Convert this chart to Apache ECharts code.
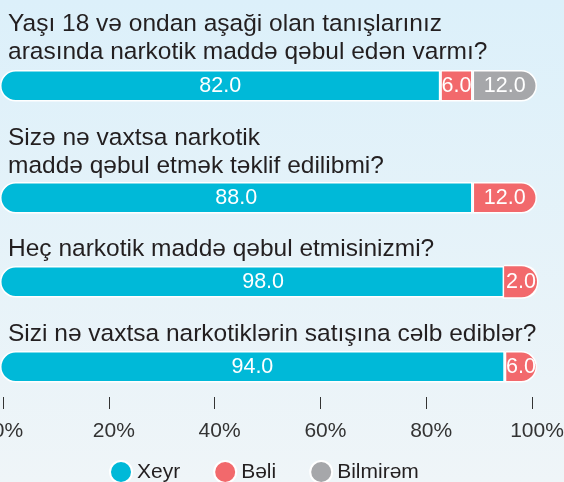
<!DOCTYPE html>
<html>
<head>
<meta charset="utf-8">
<script src="https://cdn.jsdelivr.net/npm/echarts@6/dist/echarts.min.js"></script>
<style>
html,body{margin:0;padding:0;}
#chart{width:564px;height:482px;}
</style>
</head>
<body>
<div id="chart"></div>
<script>
const questions = [
  'Yaşı 18 və ondan aşaği olan tanışlarınız\narasında narkotik maddə qəbul edən varmı?',
  'Sizə nə vaxtsa narkotik\nmaddə qəbul etmək təklif edilibmi?',
  'Heç narkotik maddə qəbul etmisinizmi?',
  'Sizi nə vaxtsa narkotiklərin satışına cəlb ediblər?'
];
const seriesNames = ['Xeyr', 'Bəli', 'Bilmirəm'];
const xeyr = [82.0, 88.0, 98.0, 94.0];
const beli = [6.0, 12.0, 2.0, 6.0];
const bilmirem = [12.0, 0, 0, 0];
const tickValues = [0, 20, 40, 60, 80, 100];

const colors = ['#00b9d8', '#f2696c', '#a6a7aa'];
const rowValues = [xeyr, beli, bilmirem];
const barTops = [70, 182, 266, 351];
const titleTops = [10, 124, 235, 320];
const barH = 31.5;
const R = 15.5;

const grids = [], xAxes = [], yAxes = [], series = [], graphics = [];
questions.forEach((q, i) => {
  grids.push({ left: 0, width: 537, top: barTops[i], height: barH, outerBoundsMode: 'none', containLabel: false });
  xAxes.push({ gridIndex: i, type: 'value', min: 0, max: 100, show: false });
  yAxes.push({ gridIndex: i, type: 'category', data: ['r' + i], show: false });
  const vals = rowValues.map(a => a[i]);
  const nz = vals.map((v, k) => v > 0 ? k : -1).filter(k => k >= 0);
  const first = nz[0], last = nz[nz.length - 1];
  vals.forEach((v, k) => {
    const rad = [k === first ? R : 0, k === last ? R : 0, k === last ? R : 0, k === first ? R : 0];
    const item = { value: v, itemStyle: { borderRadius: rad } };
    if (v > 0 && v < 4 && k === last) {
      // narrow end segment: label drawn as a small rounded tab so the value stays legible
      item.label = {
        position: 'insideRight', distance: 0,
        backgroundColor: colors[k], borderColor: '#ffffff', borderWidth: 1.5,
        borderRadius: [0, R, R, 0], padding: [5, 1, 5, 2], lineHeight: 21
      };
    }
    series.push({
      name: seriesNames[k],
      type: 'bar',
      xAxisIndex: i,
      yAxisIndex: i,
      stack: 'row' + i,
      barWidth: '100%',
      color: colors[k],
      itemStyle: { color: colors[k], borderColor: '#ffffff', borderWidth: 1.5 },
      label: {
        show: true, position: 'inside', color: '#ffffff',
        fontFamily: 'Liberation Sans', fontSize: 21.5,
        formatter: p => Number(p.value).toFixed(1)
      },
      data: [v > 0 ? item : '-']
    });
  });
  graphics.push({
    type: 'text', left: 8, top: titleTops[i],
    style: {
      text: q, fill: '#231f20', fontFamily: 'Liberation Sans', fontSize: 24.5, lineHeight: 28
    }
  });
});

// visible percentage axis
grids.push({ left: 3, width: 529, top: 397, height: 12, outerBoundsMode: 'none', containLabel: false });
xAxes.push({
  gridIndex: 4, type: 'value', min: 0, max: 100, interval: 20, position: 'bottom',
  axisLine: { show: false },
  axisTick: { show: true, inside: true, length: 12, lineStyle: { color: '#333333', width: 1 } },
  splitLine: { show: false },
  axisLabel: {
    show: true, margin: 12, color: '#333333', fontFamily: 'Liberation Sans', fontSize: 21,
    padding: [0, 0, 0, 10],
    formatter: v => v + '%'
  }
});
yAxes.push({ gridIndex: 4, type: 'value', show: false });

const chart = echarts.init(document.getElementById('chart'), null, { renderer: 'canvas' });
chart.setOption({
  animation: false,
  backgroundColor: {
    type: 'linear', x: 0, y: 0, x2: 0, y2: 1,
    colorStops: [{ offset: 0, color: '#dcf0fa' }, { offset: 1, color: '#eff5f8' }]
  },
  grid: grids,
  xAxis: xAxes,
  yAxis: yAxes,
  legend: {
    data: seriesNames,
    left: 104, top: 455,
    icon: 'circle', itemWidth: 22, itemHeight: 22, itemGap: 33,
    textStyle: { color: '#231f20', fontFamily: 'Liberation Sans', fontSize: 21 }
  },
  graphic: graphics,
  series: series
});
</script>
</body>
</html>
